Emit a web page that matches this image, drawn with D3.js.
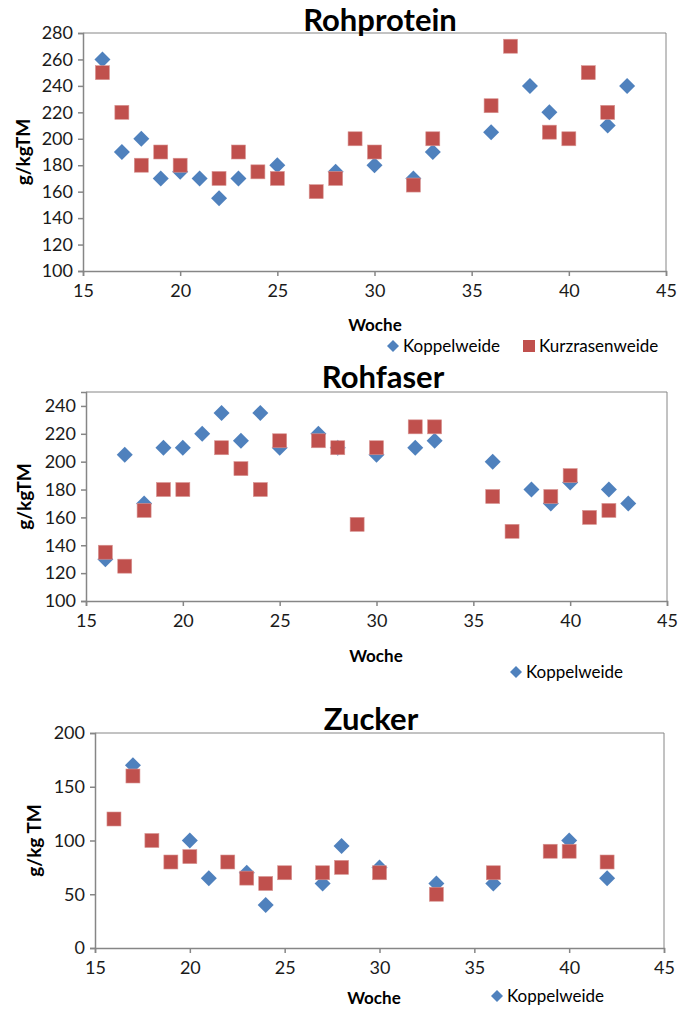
<!DOCTYPE html>
<html>
<head>
<meta charset="utf-8">
<script src="https://cdn.jsdelivr.net/npm/d3@7"></script>
<style>
  body { margin: 0; background: #fff; }
  svg { display: block; font-family: Lato, "Open Sans", sans-serif; }
</style>
</head>
<body>
<svg id="svg1" width="678" height="1009"></svg>
<script>
// --- data ---
var xTicks = [15, 20, 25, 30, 35, 40, 45];

// Rohprotein
var protKoppelWeeks = [16, 17, 18, 19, 20, 21, 22, 23, 25, 28, 30, 32, 33, 36, 38, 39, 42, 43];
var protKoppelVals  = [260, 190, 200, 170, 175, 170, 155, 170, 180, 175, 180, 170, 190, 205, 240, 220, 210, 240];
var protKurzWeeks   = [16, 17, 18, 19, 20, 22, 23, 24, 25, 27, 28, 29, 30, 32, 33, 36, 37, 39, 40, 41, 42];
var protKurzVals    = [250, 220, 180, 190, 180, 170, 190, 175, 170, 160, 170, 200, 190, 165, 200, 225, 270, 205, 200, 250, 220];
var protYTicks = [100, 120, 140, 160, 180, 200, 220, 240, 260, 280];

// Rohfaser
var faserKoppelWeeks = [16, 17, 18, 19, 20, 21, 22, 23, 24, 25, 27, 28, 30, 32, 33, 36, 38, 39, 40, 42, 43];
var faserKoppelVals  = [130, 205, 170, 210, 210, 220, 235, 215, 235, 210, 220, 210, 205, 210, 215, 200, 180, 170, 185, 180, 170];
var faserKurzWeeks   = [16, 17, 18, 19, 20, 22, 23, 24, 25, 27, 28, 29, 30, 32, 33, 36, 37, 39, 40, 41, 42];
var faserKurzVals    = [135, 125, 165, 180, 180, 210, 195, 180, 215, 215, 210, 155, 210, 225, 225, 175, 150, 175, 190, 160, 165];
var faserYTicks = [100, 120, 140, 160, 180, 200, 220, 240];

// Zucker
var zuckKoppelWeeks = [17, 20, 21, 23, 24, 27, 28, 30, 33, 36, 40, 42];
var zuckKoppelVals  = [170, 100, 65, 70, 40, 60, 95, 75, 60, 60, 100, 65];
var zuckKurzWeeks   = [16, 17, 18, 19, 20, 22, 23, 24, 25, 27, 28, 30, 33, 36, 39, 40, 42];
var zuckKurzVals    = [120, 160, 100, 80, 85, 80, 65, 60, 70, 70, 75, 70, 50, 70, 90, 90, 80];
var zuckYTicks = [0, 50, 100, 150, 200];

var blue = "#4F81BD";
var red = "#C0504D";
var axisGrey = "#868686";

var svg = d3.select("#svg1");

function zip(weeks, vals) {
  return weeks.map(function(w, i) { return { week: w, val: vals[i] }; });
}

function diamondPath(r) {
  return "M0," + (-r) + "L" + r + ",0L0," + r + "L" + (-r) + ",0Z";
}

function drawPanel(p) {
  var x = d3.scaleLinear().domain([15, 45]).range([p.left, p.right]);
  var y = d3.scaleLinear().domain(p.yDomain).range([p.bottom, p.top]);

  var g = svg.append("g");

  // plot frame (top & right)
  g.append("path")
    .attr("d", "M" + p.left + "," + p.top + "H" + p.right + "V" + p.bottom)
    .attr("fill", "none")
    .attr("stroke", axisGrey)
    .attr("stroke-width", 1);

  var xAxis = g.append("g")
    .attr("transform", "translate(0," + p.bottom + ")")
    .call(d3.axisBottom(x).tickValues(xTicks).tickSize(5).tickPadding(8));

  var yAxis = g.append("g")
    .attr("transform", "translate(" + p.left + ",0)")
    .call(d3.axisLeft(y).tickValues(p.yTicks).tickSize(5).tickPadding(5));

  [xAxis, yAxis].forEach(function(a) {
    a.select(".domain").attr("stroke", axisGrey).attr("stroke-width", 1.5);
    a.selectAll(".tick line").attr("stroke", axisGrey).attr("stroke-width", 1.5);
    a.selectAll(".tick text")
      .attr("fill", "#1a1a1a")
      .style("font-size", "18px")
      .style("font-family", "Lato, 'Open Sans', sans-serif");
  });

  // series: Koppelweide first, Kurzrasenweide on top
  g.selectAll(".kop")
    .data(zip(p.kopWeeks, p.kopVals))
    .enter()
    .append("path")
    .attr("class", "kop")
    .attr("d", diamondPath(8))
    .attr("transform", function(d) { return "translate(" + x(d.week) + "," + y(d.val) + ")"; })
    .attr("fill", blue);

  g.selectAll(".kurz")
    .data(zip(p.kurzWeeks, p.kurzVals))
    .enter()
    .append("rect")
    .attr("class", "kurz")
    .attr("x", function(d) { return x(d.week) - 7; })
    .attr("y", function(d) { return y(d.val) - 7; })
    .attr("width", 14)
    .attr("height", 14)
    .attr("fill", red)
    .attr("stroke", "#d89593")
    .attr("stroke-width", 0.6);

  // title
  g.append("text")
    .attr("x", p.titleX)
    .attr("y", p.titleY)
    .attr("text-anchor", "middle")
    .style("font-size", "31px")
    .style("font-weight", "bold")
    .text(p.title);

  // y axis title
  g.append("text")
    .attr("transform", "translate(" + p.yLabelX + "," + ((p.top + p.bottom) / 2) + ") rotate(-90)")
    .attr("text-anchor", "middle")
    .style("font-size", "19px")
    .style("font-weight", "bold")
    .text(p.yLabel);

  // x axis title
  g.append("text")
    .attr("x", p.wocheX)
    .attr("y", p.wocheY)
    .attr("text-anchor", "middle")
    .style("font-size", "17px")
    .style("font-weight", "bold")
    .text("Woche");

  // legend
  var lg = g.append("g").attr("transform", "translate(" + p.legendX + "," + p.legendY + ")");
  lg.append("path").attr("d", diamondPath(6)).attr("fill", blue);
  lg.append("text").attr("x", 10).attr("y", 6).style("font-size", "17px").text("Koppelweide");
  if (p.showKurz) {
    lg.append("rect").attr("x", 130).attr("y", -6).attr("width", 12).attr("height", 12).attr("fill", red);
    lg.append("text").attr("x", 146).attr("y", 6).style("font-size", "17px").text("Kurzrasenweide");
  }
}

drawPanel({
  title: "Rohprotein", titleX: 380, titleY: 31,
  left: 83, right: 666, top: 33, bottom: 271,
  yDomain: [100, 280], yTicks: protYTicks, yLabel: "g/kgTM", yLabelX: 30,
  kopWeeks: protKoppelWeeks, kopVals: protKoppelVals,
  kurzWeeks: protKurzWeeks, kurzVals: protKurzVals,
  wocheX: 375, wocheY: 331,
  legendX: 393, legendY: 346, showKurz: true
});

drawPanel({
  title: "Rohfaser", titleX: 383, titleY: 388,
  left: 86, right: 667, top: 392, bottom: 601,
  yDomain: [100, 250], yTicks: faserYTicks, yLabel: "g/kgTM", yLabelX: 31,
  kopWeeks: faserKoppelWeeks, kopVals: faserKoppelVals,
  kurzWeeks: faserKurzWeeks, kurzVals: faserKurzVals,
  wocheX: 376, wocheY: 662,
  legendX: 516, legendY: 672, showKurz: false
});

drawPanel({
  title: "Zucker", titleX: 371, titleY: 730,
  left: 95, right: 664, top: 733, bottom: 948,
  yDomain: [0, 200], yTicks: zuckYTicks, yLabel: "g/kg TM", yLabelX: 41,
  kopWeeks: zuckKoppelWeeks, kopVals: zuckKoppelVals,
  kurzWeeks: zuckKurzWeeks, kurzVals: zuckKurzVals,
  wocheX: 374, wocheY: 1004,
  legendX: 497, legendY: 996, showKurz: false
});
</script>
</body>
</html>
